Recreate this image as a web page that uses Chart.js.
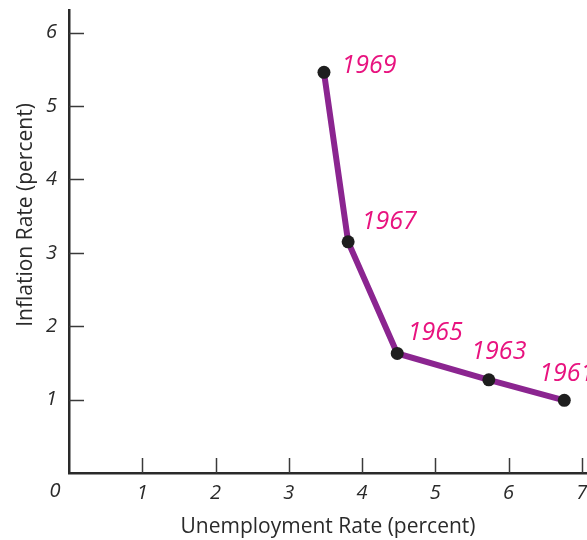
<!DOCTYPE html>
<html>
<head>
<meta charset="utf-8">
<script src="https://cdn.jsdelivr.net/npm/chart.js@4"></script>
<style>
html,body{margin:0;padding:0;background:#fff;}
#wrap{width:587px;height:540px;position:relative;}
</style>
</head>
<body>
<div id="wrap"><canvas id="c" width="587" height="540"></canvas></div>
<script>
// ---- data ----
const years = ['1961', '1963', '1965', '1967', '1969'];
const unemployment = [6.76, 5.73, 4.48, 3.81, 3.48];
const inflation = [0.99, 1.27, 1.63, 3.15, 5.46];
const xTickValues = [1, 2, 3, 4, 5, 6, 7];
const yTickValues = [1, 2, 3, 4, 5, 6];
const xTitle = 'Unemployment Rate (percent)';
const yTitle = 'Inflation Rate (percent)';
const originLabel = '0';

// ---- styles ----
const labelOffsets = [[-25, -26], [-17.5, -27.5], [10.5, -21], [13.5, -20], [17.5, -6.5]];
const FONT = '"Open Sans", "DejaVu Sans", sans-serif';
const axisColor = '#2a2a2a';
const textColor = '#2a2a2a';

const points = unemployment.map((u, i) => ({x: u, y: inflation[i]}));

const decor = {
  id: 'decor',
  afterDraw(chart) {
    const ctx = chart.ctx;
    const xs = chart.scales.x, ys = chart.scales.y;
    const ca = chart.chartArea;
    ctx.save();
    // inside tick marks
    ctx.strokeStyle = '#3a3a3a';
    ctx.lineWidth = 1.5;
    xTickValues.forEach(v => {
      const px = Math.round(xs.getPixelForValue(v)) + 0.5;
      ctx.beginPath(); ctx.moveTo(px, ca.bottom); ctx.lineTo(px, ca.bottom - 15); ctx.stroke();
    });
    yTickValues.forEach(v => {
      const py = Math.round(ys.getPixelForValue(v)) + 0.5;
      ctx.beginPath(); ctx.moveTo(ca.left, py); ctx.lineTo(ca.left + 15, py); ctx.stroke();
    });
    // origin label
    ctx.fillStyle = textColor;
    ctx.font = 'italic 20px ' + FONT;
    ctx.textAlign = 'center';
    ctx.textBaseline = 'middle';
    ctx.fillText(originLabel, ca.left - 14, ca.bottom + 18);
    // y title
    ctx.save();
    ctx.translate(26, 215);
    ctx.rotate(-Math.PI / 2);
    ctx.font = '21px ' + FONT;
    ctx.textAlign = 'center';
    ctx.textBaseline = 'middle';
    ctx.fillText(yTitle, 0, 0);
    ctx.restore();
    // year labels
    const meta = chart.getDatasetMeta(0);
    ctx.fillStyle = '#E8137F';
    ctx.font = 'italic 25px ' + FONT;
    ctx.textAlign = 'left';
    ctx.textBaseline = 'middle';
    meta.data.forEach((el, i) => {
      const o = labelOffsets[i];
      ctx.fillText(years[i], el.x + o[0], el.y + o[1]);
    });
    ctx.restore();
  }
};

new Chart(document.getElementById('c'), {
  type: 'scatter',
  data: {
    datasets: [{
      data: points,
      showLine: true,
      borderColor: '#8B2590',
      borderWidth: 6,
      pointRadius: 6.5,
      pointBackgroundColor: '#1e1e1e',
      pointBorderWidth: 0,
      pointHoverRadius: 6.5,
      tension: 0
    }]
  },
  options: {
    responsive: false,
    animation: false,
    events: [],
    layout: {autoPadding: false, padding: {top: 10, right: 0, left: 0, bottom: 0}},
    plugins: {legend: {display: false}, tooltip: {enabled: false}},
    scales: {
      x: {
        type: 'linear',
        min: 0,
        max: 7.07,
        afterBuildTicks: s => { s.ticks = xTickValues.map(v => ({value: v})); },
        afterFit: s => { s.height = 67; s.paddingLeft = 0; s.paddingRight = 0; },
        grid: {display: false, drawTicks: false},
        border: {display: true, width: 2.5, color: axisColor},
        ticks: {
          padding: 8,
          maxRotation: 0,
          autoSkip: false,
          color: textColor,
          font: {family: FONT, size: 20, style: 'italic'}
        },
        title: {
          display: true,
          text: xTitle,
          color: textColor,
          font: {family: FONT, size: 21},
          padding: {top: 3, bottom: 0}
        }
      },
      y: {
        type: 'linear',
        min: 0,
        max: 6.31,
        afterBuildTicks: s => { s.ticks = yTickValues.map(v => ({value: v})); },
        afterFit: s => { s.width = 69; s.paddingTop = 0; s.paddingBottom = 0; },
        grid: {display: false, drawTicks: false},
        border: {display: true, width: 2.5, color: axisColor},
        ticks: {
          padding: 12,
          autoSkip: false,
          color: textColor,
          font: {family: FONT, size: 20, style: 'italic'}
        }
      }
    }
  },
  plugins: [decor]
});
</script>
</body>
</html>
